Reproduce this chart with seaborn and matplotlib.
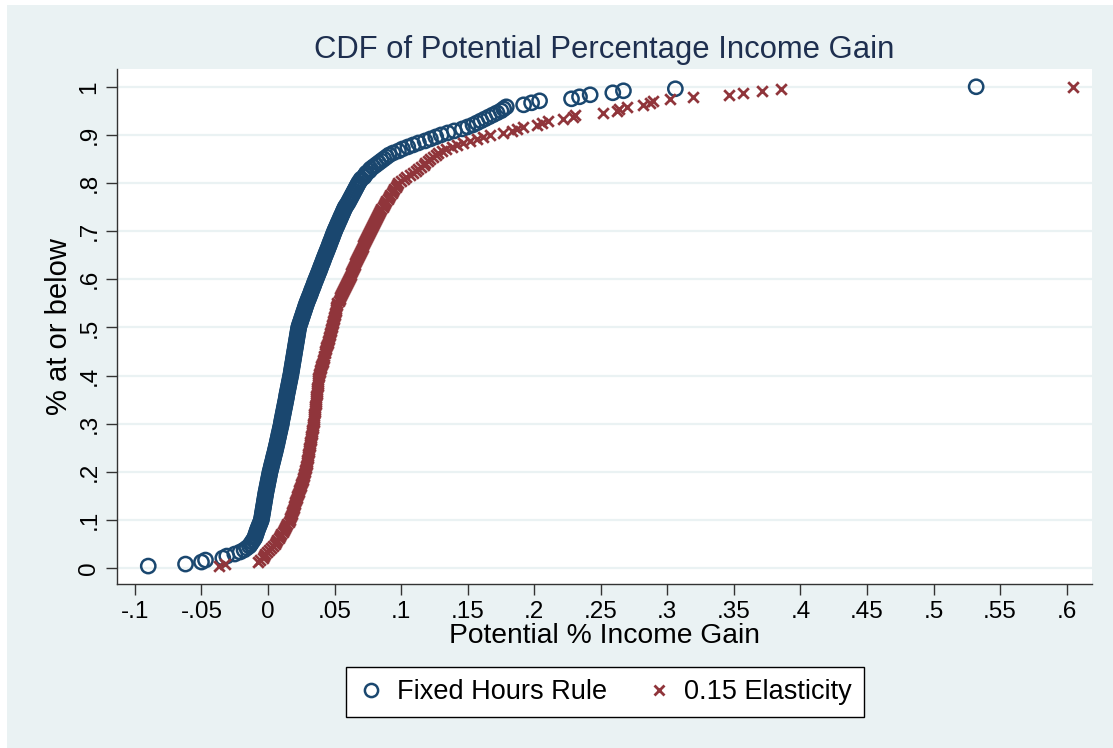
import numpy as np
import pandas as pd
import matplotlib
matplotlib.use("Agg")
import matplotlib.pyplot as plt
import seaborn as sns
from matplotlib.lines import Line2D
from matplotlib.patches import Rectangle

# potential % income gain, one value per household
fixed_hours = [
    -.090, -.062, -.050, -.047, -.034, -.031, -.025, -.021, -.018, -.016, -.014, -.013,
    -.012, -.011, -.010, -.0095, -.009, -.0085, -.008, -.0074, -.0068, -.0062, -.0056, -.005,
    -.0048, -.0045, -.0043, -.004, -.0038, -.0035, -.0033, -.003, -.0028, -.0025, -.0023, -.002,
    -.0018, -.0015, -.0012, -.0009, -.0006, -.0003, 0.0, .0003, .0006, .0009, .0012, .0015,
    .0019, .0023, .0026, .003, .0034, .0038, .0041, .0045, .0049, .0053, .0056, .006,
    .0063, .0067, .007, .0073, .0077, .008, .0083, .0087, .009, .0093, .0097, .010,
    .0102, .0105, .0108, .0111, .0114, .0117, .012, .0123, .0126, .0129, .0132, .0135,
    .0138, .014, .0143, .0146, .0149, .0152, .0155, .0158, .0161, .0164, .0167, .017,
    .0173, .0175, .0178, .018, .0183, .0185, .0188, .019, .0193, .0195, .0198, .020,
    .0203, .0205, .0208, .021, .0213, .0215, .0218, .022, .0223, .0225, .0228, .023,
    .0235, .024, .0245, .025, .0255, .026, .0265, .027, .0275, .028, .0285, .029,
    .0296, .0302, .0308, .0314, .032, .0325, .0331, .0337, .0343, .0348, .0354, .036,
    .0366, .0372, .0378, .0384, .039, .0395, .0401, .0407, .0413, .0418, .0424, .043,
    .0436, .0442, .0448, .0454, .046, .0465, .0471, .0477, .0483, .0488, .0494, .050,
    .0506, .0513, .052, .0526, .0533, .054, .0546, .0553, .056, .0566, .0573, .058,
    .059, .060, .0608, .0616, .0624, .0632, .064, .0648, .0656, .0664, .0672, .068,
    .069, .070, .072, .073, .074, .076, .077, .079, .081, .083, .085, .087,
    .089, .091, .094, .098, .101, .105, .109, .113, .118, .122, .126, .130,
    .135, .140, .146, .150, .154, .157, .160, .163, .166, .169, .172, .175,
    .177, .179, .192, .198, .204, .228, .234, .242, .259, .267, .306, .532,
]

elasticity = [
    -.037, -.032, -.0075, -.006, -.004, -.003, -.002, -.001, .0005, .002, .0035, .005,
    .006, .007, .008, .009, .010, .011, .0119, .0128, .0136, .0145, .0154, .0163,
    .0168, .0173, .0177, .0182, .0187, .0192, .0196, .0201, .0206, .0211, .0215, .022,
    .0225, .0229, .0234, .0239, .0244, .0249, .0254, .0259, .0263, .0268, .0273, .0278,
    .0281, .0283, .0286, .0289, .0291, .0294, .0297, .0299, .0302, .0305, .0307, .031,
    .0313, .0315, .0318, .032, .0323, .0325, .0328, .033, .0333, .0335, .0338, .034,
    .0342, .0343, .0345, .0347, .0348, .035, .0352, .0353, .0355, .0357, .0358, .036,
    .0362, .0363, .0365, .0367, .0368, .037, .0372, .0373, .0375, .0377, .0378, .038,
    .0385, .0389, .0393, .0397, .0401, .0405, .041, .0414, .0418, .0422, .0426, .043,
    .0435, .0439, .0443, .0447, .0451, .0455, .046, .0464, .0468, .0472, .0476, .048,
    .0483, .0487, .049, .0493, .0497, .050, .0503, .0507, .051, .0513, .0517, .052,
    .053, .0537, .0544, .0551, .0558, .0565, .0572, .0579, .0586, .0593, .060, .0608,
    .0614, .062, .0626, .0632, .0638, .0644, .065, .0656, .0662, .0668, .0674, .068,
    .0689, .0696, .0703, .071, .0717, .0724, .0731, .0738, .0745, .0752, .0759, .0766,
    .0773, .078, .0788, .0796, .0804, .0812, .082, .0828, .0836, .0844, .0852, .086,
    .087, .0879, .0888, .0898, .0908, .0918, .0928, .0938, .0948, .0958, .0968, .0977,
    .100, .102, .104, .107, .109, .111, .113, .115, .117, .118, .120, .122,
    .124, .126, .128, .131, .134, .138, .142, .1467, .1517, .1567, .1617, .1667,
    .1767, .183, .187, .1918, .2018, .2056, .2106, .2216, .229, .2306, .252, .262,
    .264, .2694, .282, .287, .289, .302, .3195, .346, .357, .371, .385, .605,
]

series_names = ["Fixed Hours Rule", "0.15 Elasticity"]

x_ticks = [-0.1, -0.05, 0, 0.05, 0.1, 0.15, 0.2, 0.25, 0.3, 0.35, 0.4, 0.45, 0.5, 0.55, 0.6]
x_tick_labels = ["-.1", "-.05", "0", ".05", ".1", ".15", ".2", ".25", ".3",
                 ".35", ".4", ".45", ".5", ".55", ".6"]
y_ticks = [0, 0.1, 0.2, 0.3, 0.4, 0.5, 0.6, 0.7, 0.8, 0.9, 1.0]
y_tick_labels = ["0", ".1", ".2", ".3", ".4", ".5", ".6", ".7", ".8", ".9", "1"]

NAVY = "#1a476f"
MAROON = "#90353b"
BG = "#eaf2f3"


def cdf_frame(values, name):
    v = np.sort(np.asarray(values, dtype=float))
    return pd.DataFrame({"gain": v,
                         "cdf": np.arange(1, len(v) + 1) / len(v),
                         "series": name})


blue_df = cdf_frame(fixed_hours, series_names[0])
red_df = cdf_frame(elasticity, series_names[1])

sns.set_style("white")
plt.rcParams['font.family'] = ['Liberation Sans', 'DejaVu Sans']
plt.rcParams['text.color'] = 'black'
plt.rcParams['axes.labelcolor'] = 'black'

fig = plt.figure(figsize=(11.13, 7.48), dpi=100, facecolor="white")
# light Stata-like background, leaving a thin white strip top and left
bg = Rectangle((7 / 1113, 0), 1, 1 - 5 / 748, transform=fig.transFigure,
               facecolor=BG, edgecolor="none", zorder=-10)
fig.patches.append(bg)
ax = fig.add_axes([0.1051, 0.2193, 0.876, 0.6885])
ax.set_facecolor("white")

sns.scatterplot(data=blue_df, x="gain", y="cdf", ax=ax, marker="o", s=105,
                facecolor="none", edgecolor=NAVY, linewidth=1.8, zorder=3)
sns.scatterplot(data=red_df, x="gain", y="cdf", ax=ax, marker="x", s=58,
                color=MAROON, linewidth=2.0, zorder=4)

ax.set_xlim(-0.1135, 0.619)
ax.set_ylim(-0.033, 1.037)
ax.set_xticks(x_ticks)
ax.set_xticklabels(x_tick_labels)
ax.set_yticks(y_ticks)
ax.set_yticklabels(y_tick_labels, rotation=90, va="center")
ax.yaxis.grid(True, color=BG, linewidth=1.6)
ax.xaxis.grid(False)
ax.set_axisbelow(True)

for side in ["top", "right"]:
    ax.spines[side].set_visible(False)
for side in ["left", "bottom"]:
    ax.spines[side].set_color("#333333")
    ax.spines[side].set_linewidth(1.0)

ax.tick_params(axis="both", which="major", direction="out", length=8, width=1,
               color="#333333", labelsize=17.5, labelcolor="black", pad=4,
               left=True, bottom=True)

ax.set_xlabel("Potential % Income Gain", fontsize=20.3, labelpad=0)
ax.set_ylabel("% at or below", fontsize=21, labelpad=4)
ax.set_title("CDF of Potential Percentage Income Gain", fontsize=22.3,
             color="#1e2f4f", pad=8)

handles = [
    Line2D([], [], linestyle="none", marker="o", markersize=9.5, markerfacecolor="none",
           markeredgecolor=NAVY, markeredgewidth=1.8),
    Line2D([], [], linestyle="none", marker="x", markersize=7.5, color=MAROON,
           markeredgewidth=2.0),
]
leg = fig.legend(handles, series_names, loc="center", bbox_to_anchor=(605 / 1113, 1 - 692 / 748),
                 ncol=2, fontsize=19.5, frameon=True, fancybox=False, edgecolor="black",
                 framealpha=1, handlelength=1.0, handletextpad=0.45, columnspacing=1.4,
                 borderpad=0.45)
leg.get_frame().set_linewidth(1.0)
leg.get_frame().set_facecolor("white")

fig.savefig("out.png", dpi=100, facecolor=fig.get_facecolor())
